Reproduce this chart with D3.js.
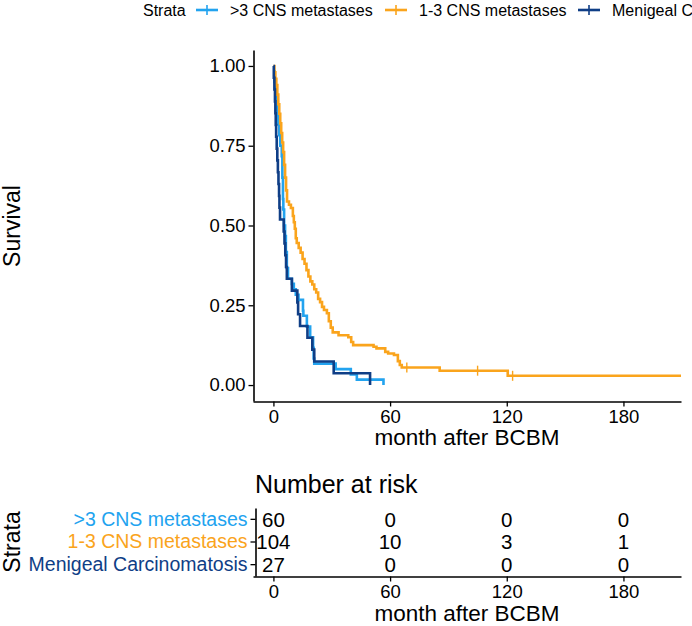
<!DOCTYPE html>
<html>
<head>
<meta charset="utf-8">
<script src="https://cdn.jsdelivr.net/npm/d3@7"></script>
<style>
  body { margin: 0; background: #fff; }
  text { font-family: "Liberation Sans", Arial, sans-serif; }
</style>
</head>
<body>
<div id="chart"></div>
<script>
// strata and colours
var strata = [">3 CNS metastases", "1-3 CNS metastases", "Menigeal Carcinomatosis"];
var colors = ["#22A3EF", "#FAA41C", "#0F3E86"];

// step curves (month, survival)
var blueT = [0, 0.5, 1, 1.5, 2, 2.5, 3, 3.5, 4.3, 4.6, 4.9, 5.1, 5.5, 6, 6.4, 6.9, 7.5, 9.5, 10.5, 11.5, 12.9, 15.2, 15.4, 17.2, 18.9, 20.4, 20.7, 21, 32, 39.8, 42.9, 56.6];
var blueS = [0.983, 0.95, 0.917, 0.883, 0.85, 0.817, 0.783, 0.75, 0.717, 0.65, 0.583, 0.55, 0.5, 0.467, 0.417, 0.367, 0.333, 0.317, 0.3, 0.283, 0.267, 0.233, 0.217, 0.183, 0.15, 0.117, 0.083, 0.067, 0.05, 0.033, 0.017, 0];
var blueCens = [];

var orangeT = [0, 0.5, 1, 1.5, 2, 2.5, 3, 3.5, 4, 4.5, 5, 5.5, 6, 6.5, 7, 8, 9, 10, 10.5, 11, 11.5, 12, 13, 14, 15, 16, 17, 18, 19, 20, 21, 22, 23, 24, 25, 26, 27.5, 28.5, 29.5, 30.5, 33.5, 38.5, 40, 41, 51.5, 53, 57.5, 59, 62, 64, 65, 66, 85.5, 120.5, 209.6];
var orangeS = [1, 0.98, 0.96, 0.94, 0.91, 0.88, 0.85, 0.82, 0.79, 0.76, 0.73, 0.69, 0.65, 0.61, 0.575, 0.565, 0.555, 0.53, 0.51, 0.49, 0.46, 0.445, 0.43, 0.415, 0.395, 0.38, 0.36, 0.34, 0.325, 0.315, 0.3, 0.29, 0.27, 0.26, 0.245, 0.235, 0.225, 0.2, 0.18, 0.165, 0.156, 0.15, 0.135, 0.125, 0.12, 0.115, 0.104, 0.099, 0.094, 0.075, 0.063, 0.055, 0.045, 0.029, 0.029];
var orangeCens = [68.6, 105, 123];

var darkT = [0, 0.2, 0.5, 0.8, 1.0, 1.2, 1.4, 1.7, 2.0, 2.3, 2.6, 2.9, 3.1, 3.4, 5.3, 5.7, 6.1, 6.5, 6.9, 9.5, 12.3, 12.7, 13.7, 17.5, 20, 21, 31, 49.7];
var darkS = [1, 0.963, 0.926, 0.889, 0.852, 0.815, 0.778, 0.741, 0.704, 0.667, 0.630, 0.593, 0.556, 0.519, 0.481, 0.444, 0.407, 0.370, 0.333, 0.296, 0.259, 0.222, 0.185, 0.148, 0.111, 0.074, 0.037, 0];
var darkCens = [];

// ticks and risk table
var xTicks = [0, 60, 120, 180];
var yTicks = [0, 0.25, 0.5, 0.75, 1];
var riskBlue = [60, 0, 0, 0];
var riskOrange = [104, 10, 3, 1];
var riskDark = [27, 0, 0, 0];

var series = [
  {name: strata[0], color: colors[0], t: blueT, s: blueS, cens: blueCens, risk: riskBlue},
  {name: strata[1], color: colors[1], t: orangeT, s: orangeS, cens: orangeCens, risk: riskOrange},
  {name: strata[2], color: colors[2], t: darkT, s: darkS, cens: darkCens, risk: riskDark}
];

var svgWidth = 692, svgHeight = 626;
var svg = d3.select("#chart").append("svg")
  .attr("width", svgWidth)
  .attr("height", svgHeight);

// scales
var x = d3.scaleLinear().domain([-10.5, 209.6]).range([253, 681]);
var y = d3.scaleLinear().domain([-0.05, 1.05]).range([401, 50]);

function stepAt(d, t) {
  var v = d.s[0];
  for (var i = 0; i < d.t.length; i++) { if (d.t[i] <= t) v = d.s[i]; }
  return v;
}

// curves
var line = d3.line()
  .x(function(p) { return x(p[0]); })
  .y(function(p) { return y(p[1]); })
  .curve(d3.curveStepAfter);

series.forEach(function(d) {
  var pts = d.t.map(function(t, i) { return [t, d.s[i]]; });
  svg.append("path")
    .attr("d", line(pts))
    .attr("fill", "none")
    .attr("stroke", d.color)
    .attr("stroke-width", 2.6);
  d.cens.forEach(function(c) {
    var cx = x(c), cy = y(stepAt(d, c));
    svg.append("line")
      .attr("x1", cx).attr("x2", cx)
      .attr("y1", cy - 5).attr("y2", cy + 5)
      .attr("stroke", d.color).attr("stroke-width", 1.4);
  });
});

// axes
var xAxis = svg.append("g")
  .attr("transform", "translate(0,401.5)")
  .call(d3.axisBottom(x).tickValues(xTicks).tickSize(5).tickSizeOuter(0).tickPadding(3));
var yAxis = svg.append("g")
  .attr("transform", "translate(253.5,0)")
  .call(d3.axisLeft(y).tickValues(yTicks).tickSize(5).tickSizeOuter(0).tickPadding(3)
    .tickFormat(d3.format(".2f")));

[xAxis, yAxis].forEach(function(g) {
  g.select(".domain").attr("stroke", "#000").attr("stroke-width", 1.6);
  g.selectAll(".tick line").attr("stroke", "#000").attr("stroke-width", 1.3);
  g.selectAll(".tick text").attr("fill", "#000").style("font-size", "18.5px");
});

svg.append("text")
  .attr("x", 467).attr("y", 445)
  .attr("text-anchor", "middle")
  .style("font-size", "22.5px")
  .text("month after BCBM");

svg.append("text")
  .attr("transform", "translate(20,226) rotate(-90)")
  .attr("text-anchor", "middle")
  .style("font-size", "23px")
  .text("Survival");

// legend
var legend = svg.append("g").attr("transform", "translate(0,10)");
legend.append("text")
  .attr("x", 143).attr("dy", "0.35em")
  .style("font-size", "16px")
  .text("Strata");
var keyX = [196, 385, 578];
series.forEach(function(d, i) {
  var g = legend.append("g").attr("transform", "translate(" + keyX[i] + ",0)");
  g.append("line").attr("x1", 0).attr("x2", 22).attr("y1", 0).attr("y2", 0)
    .attr("stroke", d.color).attr("stroke-width", 2.6);
  g.append("line").attr("x1", 11).attr("x2", 11).attr("y1", -5).attr("y2", 5)
    .attr("stroke", d.color).attr("stroke-width", 1.6);
  g.append("text")
    .attr("x", 34).attr("dy", "0.35em")
    .style("font-size", "16px")
    .text(d.name);
});

// risk table
var yRisk = d3.scaleBand().domain(strata).range([508, 576]);

svg.append("text")
  .attr("x", 255).attr("y", 493)
  .style("font-size", "25px")
  .text("Number at risk");

series.forEach(function(d) {
  d.risk.forEach(function(n, j) {
    svg.append("text")
      .attr("x", x(xTicks[j]))
      .attr("y", yRisk(d.name) + yRisk.bandwidth() / 2)
      .attr("dy", "0.35em")
      .attr("text-anchor", "middle")
      .style("font-size", "20.5px")
      .text(n);
  });
});

var rxAxis = svg.append("g")
  .attr("transform", "translate(0,576.5)")
  .call(d3.axisBottom(x).tickValues(xTicks).tickSize(5).tickSizeOuter(0).tickPadding(3));
var ryAxis = svg.append("g")
  .attr("transform", "translate(255.5,0)")
  .call(d3.axisLeft(yRisk).tickSize(5).tickSizeOuter(0).tickPadding(3));

[rxAxis, ryAxis].forEach(function(g) {
  g.select(".domain").attr("stroke", "#000").attr("stroke-width", 1.6);
  g.selectAll(".tick line").attr("stroke", "#000").attr("stroke-width", 1.3);
});
rxAxis.selectAll(".tick text").attr("fill", "#000").style("font-size", "18.5px");
ryAxis.selectAll(".tick text")
  .style("font-size", "19.5px")
  .attr("fill", function(d, i) { return colors[i]; });

svg.append("text")
  .attr("x", 467).attr("y", 621)
  .attr("text-anchor", "middle")
  .style("font-size", "22.5px")
  .text("month after BCBM");

svg.append("text")
  .attr("transform", "translate(20,542) rotate(-90)")
  .attr("text-anchor", "middle")
  .style("font-size", "23px")
  .text("Strata");
</script>
</body>
</html>
